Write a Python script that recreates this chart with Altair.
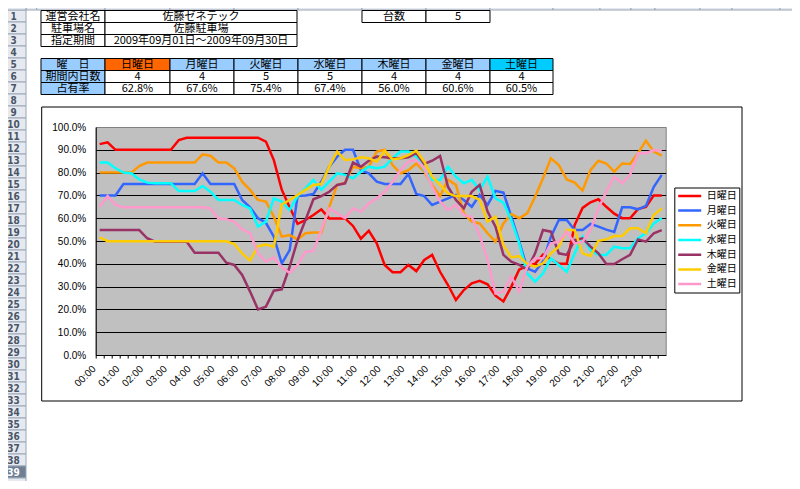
import altair as alt
import pandas as pd

# ---------------- chart data ----------------
days = ["日曜日", "月曜日", "火曜日", "水曜日", "木曜日", "金曜日", "土曜日"]
day_colors = ["#FF0000", "#3366FF", "#FF9900", "#00FFFF", "#993366", "#FFCC00", "#FF99CC"]
hours = [f"{h:02d}" for h in range(24)]
minutes = ["00", "20", "40"]
times = [f"{h}:{m}" for h in hours for m in minutes]

sun = [92.5, 93.3, 90, 90, 90, 90, 90, 90, 90, 90,
       94.3, 95.3, 95.3, 95.3, 95.3, 95.3, 95.3, 95.3, 95.3, 95.3,
       95.3, 93.6, 85.5, 72.5, 64.8, 57.5, 59.2, 61.4, 63.9, 59.9,
       59.9, 59.9, 56.6, 51.0, 54.5, 49.0, 39.5, 36.3, 36.3, 39.5,
       36.8, 41.7, 43.9, 36.5, 30.7, 24.1, 28.5, 31.4, 32.5, 31.0,
       26.0, 23.5, 30.0, 37.5, 39.0, 40.0, 44.0, 42.0, 40.0, 40.0,
       57.0, 64.5, 67.0, 68.3, 65.0, 62.0, 60.0, 60.0, 64.0, 65.0,
       70.0, 70.0]
mon = [70, 70, 70, 75, 75, 75, 75, 75, 75, 75,
       75, 75, 75, 79.7, 75, 75, 75, 75, 68, 64.8,
       60, 58, 51.9, 40.2, 46, 69.7, 70, 70.6, 76, 82.6,
       87, 90, 90, 81, 79.7, 76, 75, 75, 75, 79.4,
       70.6, 69.7, 65.8, 67.3, 68.7, 70.2, 68, 65, 70.2, 65.8,
       72, 71.2, 60.7, 49.7, 38, 36.5, 41, 51.9, 59.2, 59.2,
       54.8, 54.8, 57.5, 56.3, 55, 54, 64.8, 64.8, 63.9, 65.4,
       73.8, 79]
tue = [80, 80, 80, 80, 80, 82.9, 84.4, 84.4, 84.4, 84.4,
       84.4, 84.4, 84.4, 88, 87.4, 84.4, 84.4, 81.9, 76, 72.4,
       68, 67.3, 60.7, 51.9, 52.6, 50.7, 53.4, 53.7, 53.7, 65,
       74.6, 75.6, 82.6, 81.9, 82.6, 89.2, 90, 83.3, 79.7, 81.1,
       84, 80.4, 74.6, 69.7, 76.8, 74.6, 62.1, 58.5, 57.7, 53.4,
       49.7, 57.7, 61.8, 60, 62.1, 69.4, 77.5, 86.3, 83.3, 77,
       75.6, 72.1, 81.1, 85.2, 84, 80.4, 84, 83.8, 88.5, 94,
       89.2, 87.4]
wed = [84.4, 84.4, 81.9, 80, 79.7, 77, 75.6, 75.3, 75.3, 75.3,
       71.9, 71.9, 71.9, 74.1, 71.6, 68, 68, 68, 65.8, 64.3,
       56.3, 58.5, 68.7, 67.3, 63.6, 69.7, 73.1, 76.8, 72.4, 76,
       79.7, 79, 77.5, 80.4, 82.6, 81.9, 82.6, 86.3, 89.2, 89.2,
       87, 81.1, 76.8, 76.8, 82.6, 78.2, 75.3, 76.8, 72.4, 78.2,
       68.7, 66.8, 59.2, 49, 35.8, 32.2, 35.8, 42.4, 39.5, 36.5,
       44.6, 51.9, 46, 43.9, 43.9, 47.5, 46.8, 46.8, 51.2, 53.4,
       57.7, 60]
thu = [54.8, 54.8, 54.8, 54.8, 54.8, 54.8, 51.2, 49.7, 49.7, 49.7,
       49.7, 49.7, 44.9, 44.9, 44.9, 44.9, 40.5, 39.5, 35.1, 27.8,
       20, 21.2, 28.2, 28.8, 38.7, 50.4, 59.2, 68.3, 69.7, 71.6,
       74.6, 75.3, 84.4, 82.6, 85.2, 87, 86.7, 86.3, 86.3, 86.7,
       88.5, 83.8, 85.2, 87.3, 73.8, 68, 64.3, 71.6, 74.6, 62.9,
       56.3, 43.9, 40.9, 39.5, 37.6, 44.6, 54.8, 54.1, 44.6, 43.9,
       50.4, 51.2, 47.5, 44.6, 39.9, 39.9, 42, 43.9, 50.7, 49.7,
       53.4, 54.8]
fri = [51.6, 49.9, 49.9, 49.9, 49.9, 49.9, 49.9, 49.9, 49.9, 49.9,
       49.9, 49.9, 49.9, 49.9, 49.9, 49.9, 49.9, 48.7, 44.6, 41.4,
       47.8, 48.4, 47.5, 66, 68, 70.2, 72.4, 74.6, 75, 82.6,
       89.2, 85.5, 85.8, 86.7, 86.3, 84.8, 89.6, 85.8, 86.3, 87.7,
       89.6, 84.8, 78.2, 74.6, 70.9, 69.7, 69.7, 69.7, 68, 58.5,
       60.7, 48.2, 42.8, 43.4, 39.9, 38.7, 40.2, 44.6, 47.5, 54.8,
       54.8, 44.6, 43.4, 50.1, 50.7, 52.2, 52.2, 55.6, 55.6, 53.4,
       61.4, 64.3]
sat = [65, 69.7, 65.8, 64.8, 64.8, 64.8, 64.8, 64.8, 64.8, 64.8,
       64.8, 64.8, 64.8, 64.8, 64.3, 59.9, 59.6, 58.5, 55.1, 53.4,
       44.6, 40.9, 42.8, 38.5, 36, 39.5, 45.3, 45.6, 54.8, 64.3,
       62.1, 60, 64.3, 62.9, 66.5, 68.7, 71.6, 76, 81.1, 84.8,
       85.5, 81.9, 73.8, 67.3, 63.6, 65.8, 61.4, 60.5, 52.6, 41.7,
       27, 27.8, 34.4, 27.8, 38.7, 42.4, 42.4, 49, 49.7, 54.1,
       49, 49.7, 54.8, 64.3, 71.6, 78.2, 75.3, 79, 88.5, 88.5,
       89.9, 89.6]
series = [sun, mon, tue, wed, thu, fri, sat]

y_ticks = [0, 10, 20, 30, 40, 50, 60, 70, 80, 90, 100]

# ---------------- sheet text ----------------
info_labels = ["運営会社名", "駐車場名", "指定期間"]
info_values = ["佐藤ゼネテック", "佐藤駐車場", "2009年09月01日〜2009年09月30日"]
count_label = "台数"
count_value = "5"
row_heads = ["曜　日", "期間内日数", "占有率"]
day_counts = ["4", "4", "5", "5", "4", "4", "4"]
occupancy = ["62.8%", "67.6%", "75.4%", "67.4%", "56.0%", "60.6%", "60.5%"]
n_rows = 40

# ---------------- layout (page pixels) ----------------
PX0, PY0 = 95.7, 127.0          # plot-area origin on the page
PW, PH = 570, 228               # plot-area size
STEP = PW / len(times)
col_edges = [26, 36.7, 105, 170, 234, 298, 362, 426, 490, 553, 600, 631, 655, 700, 732, 780, 830]
ROW_TOP, ROW_H = 10, 12
TBL_TOP = 10.5
tbl_edges = [41, 105, 170, 234, 298, 362, 426, 490, 553]
day_fills = ["#FF6600", "#99CCFF", "#99CCFF", "#99CCFF", "#99CCFF", "#99CCFF", "#00CCFF"]
HEAD_FILL = "#99CCFF"
JP_FONT = "Noto Sans CJK JP"
NUM_FONT = "Liberation Sans"
HDR_FONT = "Liberation Sans Narrow, DejaVu Sans Condensed, sans-serif"
SHEET_BOTTOM = 481              # last visible page pixel row


def rx(px):
    return px - PX0


def ry(py):
    return py - PY0


# row headers
row_rects, row_texts = [], []
for n in range(1, n_rows + 1):
    top = ROW_TOP + ROW_H * (n - 1)
    sel = n == 39
    row_rects.append(dict(x=rx(-1), x2=rx(26), y=ry(top), y2=ry(top + ROW_H),
                          fill="#6F7F96" if sel else "#E6EAF0",
                          stroke="#9AA6B6"))
    if top + ROW_H <= SHEET_BOTTOM + 1:
        row_texts.append(dict(x=rx(13.5), y=ry(top + ROW_H / 2 + 0.5), text=str(n),
                              color="#FFFFFF" if sel else "#4A5566"))
# column header strip (letters sit above the drawable page area)
col_rects = []
for k in range(len(col_edges) - 1):
    col_rects.append(dict(x=rx(col_edges[k]), x2=rx(col_edges[k + 1]), y=ry(-2), y2=ry(ROW_TOP),
                          fill="#E6EAF0", stroke="#9AA6B6"))
col_rects.append(dict(x=rx(-1), x2=rx(26), y=ry(-2), y2=ry(ROW_TOP),
                      fill="#E6EAF0", stroke="#9AA6B6"))

# table cells
cells, cell_texts = [], []


def add_cell(x0, x1, row, text, fill="#FFFFFF"):
    top = TBL_TOP + ROW_H * (row - 1)
    cells.append(dict(x=rx(x0), x2=rx(x1), y=ry(top), y2=ry(top + ROW_H), fill=fill, stroke="#000000"))
    cell_texts.append(dict(x=rx((x0 + x1) / 2), y=ry(top + ROW_H / 2 + 0.5), text=text, color="#000000"))


for r in range(3):
    add_cell(41, 105, r + 1, info_labels[r])
    add_cell(105, 297, r + 1, info_values[r])
add_cell(362, 426, 1, count_label)
add_cell(426, 490, 1, count_value)
add_cell(41, 105, 5, row_heads[0], HEAD_FILL)
add_cell(41, 105, 6, row_heads[1], HEAD_FILL)
add_cell(41, 105, 7, row_heads[2], HEAD_FILL)
for k in range(7):
    x0, x1 = tbl_edges[k + 1], tbl_edges[k + 2]
    add_cell(x0, x1, 5, days[k], day_fills[k])
    add_cell(x0, x1, 6, day_counts[k])
    add_cell(x0, x1, 7, occupancy[k])

box = [dict(x=rx(41.7), x2=rx(742), y=ry(107), y2=ry(401))]


def rect_layer(rows, **kw):
    return alt.Chart(pd.DataFrame(rows)).mark_rect(**kw).encode(
        x=alt.X("x:Q", scale=None, axis=None), x2="x2:Q",
        y=alt.Y("y:Q", scale=None, axis=None), y2="y2:Q",
        fill=alt.Fill("fill:N", scale=None, legend=None),
        stroke=alt.Stroke("stroke:N", scale=None, legend=None))


def text_layer(rows, **kw):
    return alt.Chart(pd.DataFrame(rows)).mark_text(align="center", baseline="middle", **kw).encode(
        x=alt.X("x:Q", scale=None, axis=None),
        y=alt.Y("y:Q", scale=None, axis=None),
        text="text:N",
        fill=alt.Fill("color:N", scale=None, legend=None))


row_rect_l = rect_layer(row_rects, strokeWidth=1)
row_text_l = text_layer(row_texts, font=HDR_FONT, fontSize=10, fontWeight="bold")
col_rect_l = rect_layer(col_rects, strokeWidth=1)
cell_l = rect_layer(cells, strokeWidth=1)
cell_text_l = text_layer(cell_texts, font=JP_FONT, fontSize=11)
box_l = alt.Chart(pd.DataFrame(box)).mark_rect(fillOpacity=0, stroke="#000000", strokeWidth=1).encode(
    x=alt.X("x:Q", scale=None, axis=None), x2="x2:Q",
    y=alt.Y("y:Q", scale=None, axis=None), y2="y2:Q")

# ---------------- line chart ----------------
line_df = pd.DataFrame([
    {"day": d, "time": t, "value": v}
    for d, vals in zip(days, series) for t, v in zip(times, vals)
])

lines_l = alt.Chart(line_df).mark_line(strokeWidth=2.5).encode(
    x=alt.X("time:O", sort=times,
            scale=alt.Scale(type="point", padding=0.5, domain=times),
            axis=alt.Axis(title=None, labelAngle=315, labelAlign="right", labelBaseline="middle",
                          labelExpr="substring(datum.label, 3, 5) == '00' ? datum.label : ''",
                          labelFont=NUM_FONT, labelFontSize=10, labelColor="#000000",
                          labelOverlap=False, labelPadding=9, labelOffset=-2, tickOffset=-STEP / 2,
                          tickSize=3, tickColor="#000000", domainColor="#000000", grid=False)),
    y=alt.Y("value:Q", scale=alt.Scale(domain=[0, 100], nice=False),
            axis=alt.Axis(title=None, values=y_ticks,
                          labelExpr="format(datum.value, '.1f') + '%'",
                          labelFont=NUM_FONT, labelFontSize=10, labelColor="#000000",
                          labelPadding=10, ticks=False, domainColor="#000000",
                          grid=True, gridWidth=1, gridOpacity=1,
                          gridColor={"condition": {"test": "datum.value === 100", "value": "#808080"},
                                     "value": "#000000"})),
    color=alt.Color("day:N", sort=days, scale=alt.Scale(domain=days, range=day_colors),
                    legend=alt.Legend(orient="none", legendX=578.6, legendY=60.5, title=None,
                                      symbolType="stroke", symbolSize=529, symbolStrokeWidth=2.5,
                                      labelFont=JP_FONT, labelFontSize=10, labelColor="#000000",
                                      labelOffset=4, padding=2.4, rowPadding=2.7, clipHeight=12,
                                      strokeColor="#000000", fillColor="#FFFFFF", labelLimit=0)),
)

chart = alt.layer(
    row_rect_l, row_text_l, col_rect_l, cell_l, cell_text_l, box_l, lines_l
).properties(
    width=PW, height=PH,
    padding={"left": PX0 - 8, "top": PY0 - 8, "right": 784 - (PX0 - 8) - PW, "bottom": 473 - (PY0 - 8) - PH},
    autosize=alt.AutoSizeParams(type="none"),
    background="#FFFFFF",
).configure_view(fill="#C0C0C0", stroke="#808080", strokeWidth=1)

chart.save("out.html", embed_options={"renderer": "svg", "actions": False})
